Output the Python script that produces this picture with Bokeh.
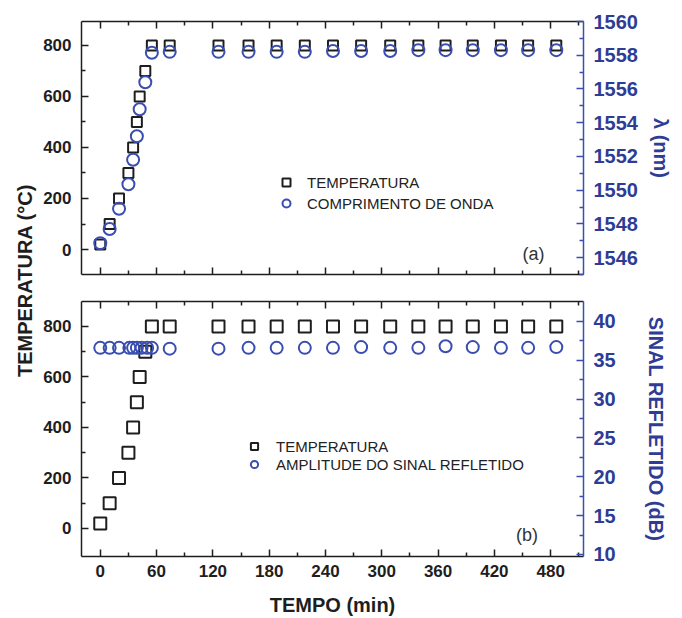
import math
from bokeh.plotting import figure
from bokeh.models import (Range1d, LinearAxis, Legend, LegendItem, Label, FixedTicker,
                          CustomLabelingPolicy)
from bokeh.layouts import row, column
from bokeh.embed import file_html
from bokeh.resources import INLINE

FONT = "Liberation Sans"
BLACK = "#1e1e1e"
BLUE = "#3a4db0"
NAVY = "#2e3c96"

# ---------------- data ----------------
time_temp = [0, 10, 20, 30, 35, 39, 42, 48, 55, 74, 126, 158, 188, 218, 248, 278,
             309, 339, 368, 397, 427, 456, 486]
temperature = [20, 100, 200, 300, 400, 500, 600, 700, 800, 800, 800, 800, 800, 800,
               800, 800, 800, 800, 800, 800, 800, 800, 800]

time_wl = [0, 10, 20, 30, 35, 39, 42, 48, 55, 74, 126, 158, 188, 218, 248, 278,
           309, 339, 368, 397, 427, 456, 486]
wavelength = [1546.85, 1547.7, 1548.9, 1550.35, 1551.8, 1553.2, 1554.8, 1556.4, 1558.15,
              1558.2, 1558.2, 1558.2, 1558.2, 1558.2, 1558.25, 1558.25, 1558.25, 1558.3,
              1558.3, 1558.3, 1558.3, 1558.3, 1558.3]

time_amp = [0, 10, 20, 31, 35, 39, 44, 50, 55, 74, 126, 158, 188, 218, 248, 278,
            309, 339, 368, 397, 427, 456, 486]
amplitude = [36.6, 36.6, 36.6, 36.6, 36.6, 36.6, 36.6, 36.6, 36.6, 36.5, 36.5, 36.6,
             36.6, 36.6, 36.6, 36.7, 36.6, 36.6, 36.8, 36.7, 36.6, 36.6, 36.7]

x_ticks = [0, 60, 120, 180, 240, 300, 360, 420, 480]
x_minor = [30, 90, 150, 210, 270, 330, 390, 450, 510]
temp_ticks = [0, 200, 400, 600, 800]
temp_minor = [100, 300, 500, 700]
wl_ticks = [1546, 1548, 1550, 1552, 1554, 1556, 1558, 1560]
wl_minor = [1545, 1547, 1549, 1551, 1553, 1555, 1557, 1559]
amp_ticks = [10, 15, 20, 25, 30, 35, 40]
amp_minor = [12.5, 17.5, 22.5, 27.5, 32.5, 37.5]

legend_top = ["TEMPERATURA", "COMPRIMENTO DE ONDA"]
legend_bot = ["TEMPERATURA", "AMPLITUDE DO SINAL REFLETIDO"]

HIDE_LABELS = "const all = [...indices]; for (const i of all) indices.unset(i); return indices"


def style_axis(ax, color, label_size, line_color=None, show_labels=True):
    ax.axis_line_color = line_color or color
    ax.axis_line_width = 1.5
    ax.major_tick_line_color = line_color or color
    ax.minor_tick_line_color = line_color or color
    ax.major_tick_line_width = 1.5
    ax.minor_tick_line_width = 1.5
    ax.major_tick_in = 7
    ax.major_tick_out = 0
    ax.minor_tick_in = 4
    ax.minor_tick_out = 0
    ax.major_label_text_font = FONT
    ax.major_label_text_font_style = "bold"
    ax.major_label_text_color = color
    ax.major_label_text_font_size = label_size
    if not show_labels:
        ax.major_label_policy = CustomLabelingPolicy(code=HIDE_LABELS)
        ax.major_label_text_font_size = "1px"
        ax.major_label_standoff = 0
    ax.axis_label_text_font = FONT
    ax.axis_label_text_font_style = "bold"
    ax.axis_label_text_font_size = "20px"
    ax.axis_label_text_color = color


def make_xticker():
    return FixedTicker(ticks=x_ticks, minor_ticks=x_minor)


xr = Range1d(-20, 515)

# ---------------- top panel ----------------
p1 = figure(width=642, height=287, x_range=xr, y_range=Range1d(-98, 894),
            x_axis_location=None, y_axis_location=None, title=None,
            output_backend="svg", toolbar_location=None,
            min_border_left=39, min_border_right=99, min_border_top=21,
            min_border_bottom=13)
p1.extra_y_ranges = {"wl": Range1d(1545, 1560)}
p1.outline_line_color = None
p1.grid.visible = False

ax = LinearAxis(ticker=FixedTicker(ticks=temp_ticks, minor_ticks=temp_minor))
style_axis(ax, BLACK, "17px")
ax.major_label_standoff = 10
p1.add_layout(ax, "left")

ax = LinearAxis(y_range_name="wl", ticker=FixedTicker(ticks=wl_ticks, minor_ticks=wl_minor),
                axis_label="λ (nm)")
style_axis(ax, NAVY, "20px", line_color=BLUE)
ax.major_label_standoff = 10
ax.axis_label_standoff = 9
p1.add_layout(ax, "right")

ax = LinearAxis(ticker=make_xticker())
style_axis(ax, BLACK, "17px", show_labels=False)
p1.add_layout(ax, "below")
ax = LinearAxis(ticker=make_xticker())
style_axis(ax, BLACK, "17px", show_labels=False)
p1.add_layout(ax, "above")

r1 = p1.scatter(time_temp, temperature, marker="square", size=10, fill_color=None,
                line_color=BLACK, line_width=2)
r2 = p1.scatter(time_wl, wavelength, y_range_name="wl", marker="circle", size=12,
                fill_color=None, line_color=BLUE, line_width=2)

leg1 = Legend(items=[LegendItem(label=legend_top[0], renderers=[r1]),
                     LegendItem(label=legend_top[1], renderers=[r2])],
              location=(195, 61), padding=0, margin=0, spacing=1,
              glyph_width=20, glyph_height=20, label_height=20, label_standoff=11,
              border_line_color=None, background_fill_alpha=0,
              label_text_font=FONT, label_text_font_size="15px", label_text_color="#222222")
p1.add_layout(leg1)
p1.add_layout(Label(x=450, y=-19, text="(a)", text_baseline="middle", text_font=FONT,
                    text_font_size="18px", text_color="#333333"))

# ---------------- bottom panel ----------------
p2 = figure(width=642, height=331, x_range=xr, y_range=Range1d(-111, 899),
            x_axis_location=None, y_axis_location=None, title=None,
            output_backend="svg", toolbar_location=None,
            min_border_left=39, min_border_right=99, min_border_top=14,
            min_border_bottom=62)
p2.extra_y_ranges = {"amp": Range1d(9.74, 42.57)}
p2.outline_line_color = None
p2.grid.visible = False

ax = LinearAxis(ticker=FixedTicker(ticks=temp_ticks, minor_ticks=temp_minor))
style_axis(ax, BLACK, "17px")
ax.major_label_standoff = 10
p2.add_layout(ax, "left")

ax = LinearAxis(y_range_name="amp", ticker=FixedTicker(ticks=amp_ticks, minor_ticks=amp_minor),
                axis_label="SINAL REFLETIDO (dB)")
style_axis(ax, NAVY, "20px", line_color=BLUE)
ax.major_label_standoff = 10
ax.axis_label_standoff = 26
p2.add_layout(ax, "right")

ax = LinearAxis(ticker=make_xticker(), axis_label="TEMPO (min)")
style_axis(ax, BLACK, "17px")
ax.major_label_standoff = 8
ax.axis_label_standoff = 14
p2.add_layout(ax, "below")
ax = LinearAxis(ticker=make_xticker())
style_axis(ax, BLACK, "17px", show_labels=False)
p2.add_layout(ax, "above")

r3 = p2.scatter(time_temp, temperature, marker="square", size=12, fill_color=None,
                line_color=BLACK, line_width=2)
r4 = p2.scatter(time_amp, amplitude, y_range_name="amp", marker="circle", size=12,
                fill_color=None, line_color=BLUE, line_width=2)

leg2 = Legend(items=[LegendItem(label=legend_bot[0], renderers=[r3]),
                     LegendItem(label=legend_bot[1], renderers=[r4])],
              location=(163, 83), padding=0, margin=0, spacing=0,
              glyph_width=20, glyph_height=18, label_height=18, label_standoff=12,
              border_line_color=None, background_fill_alpha=0,
              label_text_font=FONT, label_text_font_size="15px", label_text_color="#222222")
p2.add_layout(leg2)
p2.add_layout(Label(x=443, y=-24, text="(b)", text_baseline="middle", text_font=FONT,
                    text_font_size="18px", text_color="#333333"))

# ---------------- shared y label ----------------
labfig = figure(width=40, height=618, x_range=Range1d(0, 1), y_range=Range1d(0, 1),
                x_axis_location=None, y_axis_location=None, title=None,
                output_backend="svg", toolbar_location=None, min_border=0)
labfig.outline_line_color = None
labfig.grid.visible = False
labfig.add_layout(Label(x=0.6, y=0.547, text="TEMPERATURA (°C)", angle=math.pi / 2,
                        text_align="center", text_baseline="middle", text_font=FONT,
                        text_font_style="bold", text_font_size="20px", text_color=BLACK))

layout = row(labfig, column(p1, p2))
open("out.html", "w").write(file_html(layout, INLINE))
